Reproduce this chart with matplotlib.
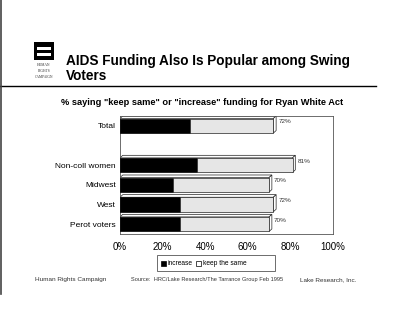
import matplotlib
matplotlib.use("Agg")
import matplotlib.pyplot as plt
from matplotlib.patches import Polygon, Rectangle

categories = ["Total", "", "Non-coll women", "Midwest", "West", "Perot voters"]
increase = [33, None, 36, 25, 28, 28]
total = [72, None, 81, 70, 72, 70]
tick_vals = [0, 20, 40, 60, 80, 100]
tick_labels = ["0%", "20%", "40%", "60%", "80%", "100%"]

plt.rcParams['font.family'] = ['Liberation Sans', 'DejaVu Sans']

fig = plt.figure(figsize=(4.0, 3.09), dpi=100)
fig.patch.set_facecolor('white')

ax = fig.add_axes([0.30, 0.2427, 0.5325, 0.382])
ax.set_xlim(0, 100)
ax.set_ylim(len(categories) - 0.5, -0.5)

h = 0.74
dx, dy = 1.3, 0.13
for i, (inc, tot) in enumerate(zip(increase, total)):
    if tot is None:
        continue
    keep = tot - inc
    ax.add_patch(Polygon([(0, i - h / 2), (dx, i - h / 2 - dy), (tot + dx, i - h / 2 - dy), (tot, i - h / 2)],
                         closed=True, facecolor='white', edgecolor='#222222', lw=0.5, zorder=2))
    ax.add_patch(Polygon([(tot, i - h / 2), (tot + dx, i - h / 2 - dy), (tot + dx, i + h / 2 - dy), (tot, i + h / 2)],
                         closed=True, facecolor='white', edgecolor='#222222', lw=0.5, zorder=2))
    ax.barh(i, inc, height=h, color='black', edgecolor='black', lw=0.5, zorder=3)
    ax.barh(i, keep, left=inc, height=h, color='#e6e6e6', edgecolor='#222222', lw=0.5, zorder=3)
    ax.text(tot + dx + 1.0, i - 0.2, f"{tot}%", fontsize=4.6, va='center', ha='left', color='#333333')

ax.set_yticks(range(len(categories)))
ax.set_yticklabels(categories, fontsize=6.0)
ax.set_xticks(tick_vals)
ax.set_xticklabels(tick_labels, fontsize=7)
ax.tick_params(length=0, pad=3)
ax.tick_params(axis='x', pad=6)
for s in ax.spines.values():
    s.set_linewidth(0.6)
    s.set_color('#555555')

# Title and header
fig.text(66 / 400, 1 - 68.5 / 309, "AIDS Funding Also Is Popular among Swing\nVoters",
         fontsize=9.8, fontweight='bold', ha='left', va='center', linespacing=1.15)
fig.add_artist(plt.Line2D([0, 376 / 400], [1 - 86 / 309, 1 - 86 / 309], color='black', lw=1.0))
fig.text(202 / 400, 1 - 102 / 309,
         '% saying "keep same" or "increase" funding for Ryan White Act',
         fontsize=6.7, fontweight='bold', ha='center', va='center')

# logo
fig.add_artist(Rectangle((34 / 400, 1 - 60 / 309), 20 / 400, 18 / 309, transform=fig.transFigure,
                         facecolor='black', edgecolor='none'))
for yy in (47, 53):
    fig.add_artist(Rectangle((37 / 400, 1 - (yy + 2.5) / 309), 14 / 400, 2.5 / 309, transform=fig.transFigure,
                             facecolor='white', edgecolor='none'))
fig.text(44 / 400, 1 - 71 / 309, "HUMAN\nRIGHTS\nCAMPAIGN", fontsize=2.6, ha='center', va='center',
         family=['Liberation Serif', 'DejaVu Serif'], linespacing=1.5, color='#333333')

# legend
lx0, ly0, lw_, lh_ = 157 / 400, 1 - 271 / 309, 118 / 400, 16 / 309
fig.add_artist(Rectangle((lx0, ly0), lw_, lh_, transform=fig.transFigure,
                         facecolor='white', edgecolor='#555555', lw=0.6))
fig.add_artist(Rectangle((161 / 400, 1 - 266 / 309), 5 / 400, 5 / 309, transform=fig.transFigure,
                         facecolor='black', edgecolor='black', lw=0.5))
fig.text(168 / 400, 1 - 263.5 / 309, "increase", fontsize=4.8, ha='left', va='center')
fig.add_artist(Rectangle((196 / 400, 1 - 266 / 309), 5 / 400, 5 / 309, transform=fig.transFigure,
                         facecolor='white', edgecolor='black', lw=0.5))
fig.text(203 / 400, 1 - 263.5 / 309, "keep the same", fontsize=4.8, ha='left', va='center')

# footer
fig.text(35 / 400, 1 - 280 / 309, "Human Rights Campaign", fontsize=4.6, ha='left', va='center', color='#333333')
fig.text(131 / 400, 1 - 279 / 309, "Source:  HRC/Lake Research/The Tarrance Group Feb 1995", fontsize=4.1,
         ha='left', va='center', color='#333333')
fig.text(300 / 400, 1 - 280 / 309, "Lake Research, Inc.", fontsize=4.6, ha='left', va='center', color='#333333')

# scan border
fig.add_artist(plt.Line2D([0.003, 0.003], [0.05, 1], color='#444444', lw=1.2))

fig.savefig("out.png", dpi=100, facecolor='white')
